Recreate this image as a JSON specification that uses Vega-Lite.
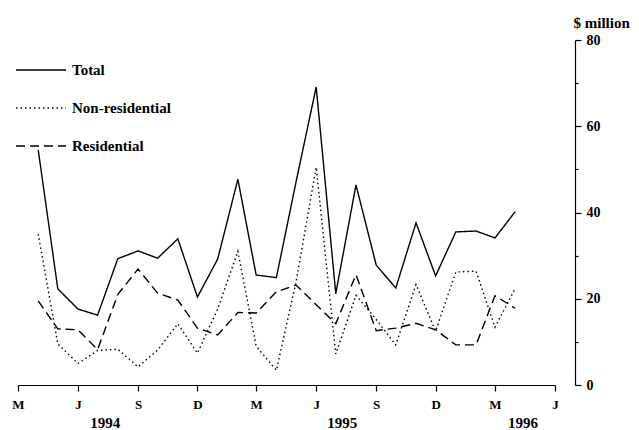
{
  "$schema": "https://vega.github.io/schema/vega-lite/v6.json",
  "width": 537,
  "height": 345,
  "autosize": {"type": "none"},
  "padding": {"left": 18, "top": 40, "right": 84, "bottom": 45},
  "background": "white",
  "config": {"view": {"stroke": null}, "font": "Liberation Serif"},
  "layer": [
    {
      "data": {
        "values": [
          {"month": "1994-04-01", "Total": 54.5, "Non-residential": 35.0, "Residential": 19.5},
          {"month": "1994-05-01", "Total": 22.3, "Non-residential": 9.5, "Residential": 13.0},
          {"month": "1994-06-01", "Total": 17.6, "Non-residential": 5.0, "Residential": 12.8},
          {"month": "1994-07-01", "Total": 16.2, "Non-residential": 8.0, "Residential": 8.2},
          {"month": "1994-08-01", "Total": 29.3, "Non-residential": 8.3, "Residential": 21.0},
          {"month": "1994-09-01", "Total": 31.1, "Non-residential": 4.2, "Residential": 26.9},
          {"month": "1994-10-01", "Total": 29.4, "Non-residential": 8.1, "Residential": 21.3},
          {"month": "1994-11-01", "Total": 33.9, "Non-residential": 14.2, "Residential": 19.7},
          {"month": "1994-12-01", "Total": 20.4, "Non-residential": 7.4, "Residential": 13.2},
          {"month": "1995-01-01", "Total": 29.2, "Non-residential": 17.6, "Residential": 11.6},
          {"month": "1995-02-01", "Total": 47.7, "Non-residential": 31.0, "Residential": 16.8},
          {"month": "1995-03-01", "Total": 25.5, "Non-residential": 9.0, "Residential": 16.7},
          {"month": "1995-04-01", "Total": 24.9, "Non-residential": 3.4, "Residential": 21.6},
          {"month": "1995-05-01", "Total": 47.0, "Non-residential": 23.8, "Residential": 23.2},
          {"month": "1995-06-01", "Total": 69.1, "Non-residential": 50.5, "Residential": 18.6},
          {"month": "1995-07-01", "Total": 21.2, "Non-residential": 7.2, "Residential": 14.2},
          {"month": "1995-08-01", "Total": 46.4, "Non-residential": 20.8, "Residential": 25.6},
          {"month": "1995-09-01", "Total": 27.8, "Non-residential": 15.2, "Residential": 12.6},
          {"month": "1995-10-01", "Total": 22.5, "Non-residential": 9.3, "Residential": 13.2},
          {"month": "1995-11-01", "Total": 37.6, "Non-residential": 23.3, "Residential": 14.3},
          {"month": "1995-12-01", "Total": 25.3, "Non-residential": 12.5, "Residential": 12.8},
          {"month": "1996-01-01", "Total": 35.5, "Non-residential": 26.2, "Residential": 9.3},
          {"month": "1996-02-01", "Total": 35.7, "Non-residential": 26.4, "Residential": 9.3},
          {"month": "1996-03-01", "Total": 34.1, "Non-residential": 13.4, "Residential": 20.7},
          {"month": "1996-04-01", "Total": 40.2, "Non-residential": 22.4, "Residential": 17.8}
        ]
      },
      "transform": [{"fold": ["Total", "Non-residential", "Residential"], "as": ["series", "value"]}],
      "mark": {"type": "line", "color": "black", "strokeWidth": 1.4},
      "encoding": {
        "x": {
          "field": "month",
          "type": "temporal",
          "scale": {
            "type": "utc",
            "domain": [
              {"year": 1994, "month": 3, "date": 1, "utc": true},
              {"year": 1996, "month": 6, "date": 1, "utc": true}
            ]
          },
          "axis": {
            "orient": "bottom",
            "title": null,
            "grid": false,
            "values": [
              {"year": 1994, "month": 3, "date": 1, "utc": true},
              {"year": 1994, "month": 6, "date": 1, "utc": true},
              {"year": 1994, "month": 9, "date": 1, "utc": true},
              {"year": 1994, "month": 12, "date": 1, "utc": true},
              {"year": 1995, "month": 3, "date": 1, "utc": true},
              {"year": 1995, "month": 6, "date": 1, "utc": true},
              {"year": 1995, "month": 9, "date": 1, "utc": true},
              {"year": 1995, "month": 12, "date": 1, "utc": true},
              {"year": 1996, "month": 3, "date": 1, "utc": true},
              {"year": 1996, "month": 6, "date": 1, "utc": true}
            ],
            "labelExpr": "substring(utcFormat(datum.value, '%b'), 0, 1)",
            "labelFont": "Liberation Serif",
            "labelFontWeight": "bold",
            "labelFontSize": 13,
            "labelColor": "black",
            "labelPadding": 7,
            "labelFlush": false,
            "labelOverlap": false,
            "tickSize": 6,
            "tickColor": "black",
            "tickWidth": 1.2,
            "domainColor": "black",
            "domainWidth": 1.2
          }
        },
        "y": {
          "field": "value",
          "type": "quantitative",
          "scale": {"domain": [0, 80], "nice": false},
          "axis": {
            "orient": "right",
            "offset": 20,
            "grid": false,
            "values": [0, 10, 20, 30, 40, 50, 60, 70, 80],
            "labelExpr": "datum.value % 20 === 0 ? datum.label : ''",
            "tickSize": {"condition": {"test": "datum.value % 20 === 0", "value": 6}, "value": 3},
            "tickColor": "black",
            "tickWidth": 1.2,
            "domainColor": "black",
            "domainWidth": 1.2,
            "labelFont": "Liberation Serif",
            "labelFontWeight": "bold",
            "labelFontSize": 14,
            "labelColor": "black",
            "labelPadding": 5,
            "labelOverlap": false,
            "title": "$ million",
            "titleAngle": 0,
            "titleAlign": "left",
            "titleBaseline": "alphabetic",
            "titleX": -2,
            "titleY": -13,
            "titleFont": "Liberation Serif",
            "titleFontWeight": "bold",
            "titleFontSize": 15,
            "titleColor": "black"
          }
        },
        "strokeDash": {
          "field": "series",
          "type": "nominal",
          "scale": {
            "domain": ["Total", "Non-residential", "Residential"],
            "range": [[1, 0], [1.5, 3], [9, 5]]
          },
          "legend": {
            "title": null,
            "orient": "none",
            "legendX": -3,
            "legendY": 4,
            "direction": "vertical",
            "symbolType": "stroke",
            "symbolSize": 2500,
            "symbolStrokeWidth": 1.3,
            "symbolStrokeColor": "black",
            "labelFont": "Liberation Serif",
            "labelFontWeight": "bold",
            "labelFontSize": 15,
            "labelColor": "black",
            "labelOffset": 5,
            "rowPadding": 4
          }
        }
      }
    },
    {
      "data": {
        "values": [
          {"d": "1994-07-12", "yr": "1994"},
          {"d": "1995-07-10", "yr": "1995"},
          {"d": "1996-04-12", "yr": "1996"}
        ]
      },
      "mark": {"type": "point", "opacity": 0},
      "encoding": {
        "x": {
          "field": "d",
          "type": "temporal",
          "axis": {
            "orient": "bottom",
            "title": null,
            "grid": false,
            "domain": false,
            "ticks": false,
            "tickSize": 0,
            "values": [
              {"year": 1994, "month": 7, "date": 12, "utc": true},
              {"year": 1995, "month": 7, "date": 10, "utc": true},
              {"year": 1996, "month": 4, "date": 12, "utc": true}
            ],
            "labelExpr": "utcFormat(datum.value, '%Y')",
            "labelFont": "Liberation Serif",
            "labelFontWeight": "bold",
            "labelFontSize": 15,
            "labelColor": "black",
            "labelPadding": 30,
            "labelFlush": false,
            "labelOverlap": false
          }
        }
      }
    }
  ],
  "resolve": {"axis": {"x": "independent"}}
}
